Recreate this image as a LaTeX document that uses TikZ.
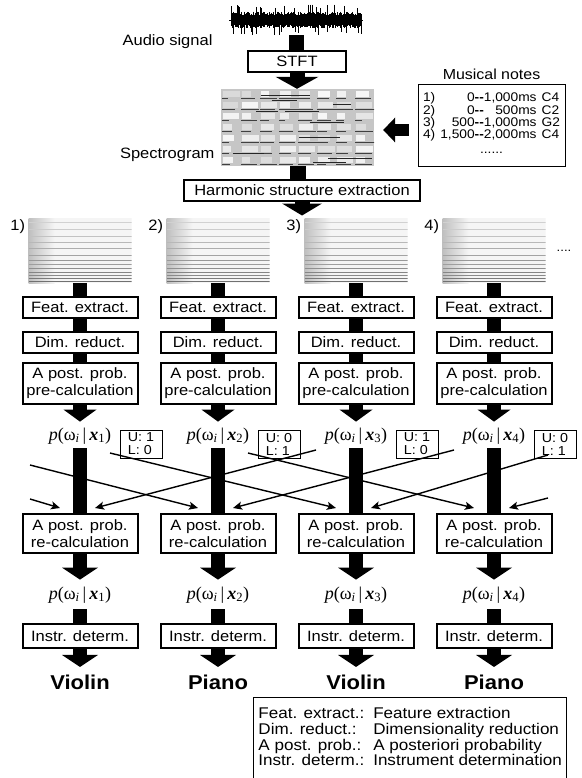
\documentclass[tikz,border=0pt]{standalone}
\usepackage{fontspec}
\setmainfont[FakeStretch=1.1]{Liberation Sans}
\newfontfamily\serifp{Liberation Serif}
\usetikzlibrary{arrows.meta,positioning}

\newcommand{\boxfs}{\fontsize{15}{17}\selectfont}
\newcommand{\probfs}{\serifp\fontsize{18}{20}\selectfont}
\newcommand{\resfs}{\bfseries\fontsize{20}{22}\selectfont}
\newcommand{\pw}[1]{\textit{p}(ω\textsubscript{\textit{i}}\,|\,\textbf{\textit{x}}\textsubscript{#1})}

\tikzset{
  blk/.style={draw, line width=2pt, fill=white, minimum width=115pt, minimum height=21pt,
    inner sep=1pt, align=center, font=\boxfs},
  blk2/.style={blk, minimum height=41pt},
  thinbox/.style={draw, line width=0.9pt, fill=white, inner sep=3pt, align=left},
  bar/.style={line width=14pt},
  bigarrow/.style={line width=14pt, -{Triangle[width=#1,length=12pt,line width=0pt]}},
  bigarrow/.default=36pt,
  xarrow/.style={line width=1.4pt, -{Stealth[length=9pt,width=8pt,inset=2pt]}},
  harm/.style={minimum width=103pt, minimum height=65pt, inner sep=0pt,
    path picture={
      \fill[gray!8] (path picture bounding box.south west) rectangle (path picture bounding box.north east);
      \shade[left color=gray!50, right color=gray!8] (path picture bounding box.south west)
        rectangle ([xshift=26pt]path picture bounding box.north west);
      \foreach \dy/\g in {4/18,11/20,18/24,24/28,30/32,37/36,42/40,46/38,50/44,54/48,57/46,60/52,63/56}
        \draw[black!\g, line width=1pt] ([yshift=-\dy*1pt]path picture bounding box.north west)
          -- ([yshift=-\dy*1pt]path picture bounding box.north east);
    }},
  spectro/.style={minimum width=153pt, minimum height=77pt, inner sep=0pt,
    path picture={
      \fill[gray!45] (path picture bounding box.south west) rectangle (path picture bounding box.north east);
      \foreach \sa in {0,...,7}{\foreach \sb in {0,...,6}{
        \pgfmathsetmacro\w{8+9*rnd}
        \pgfmathsetmacro\g{5+25*rnd}
        \fill[gray!\g] ([xshift=\sa*19pt+2pt, yshift=-\sb*11pt-2pt]path picture bounding box.north west)
          rectangle ++(\w pt,-6pt);
        \pgfmathsetmacro\ll{6+14*rnd}
        \draw[black!75, line width=0.9pt] ([xshift=\sa*19pt+1pt, yshift=-\sb*11pt-9.5pt]path picture bounding box.north west)
          -- ++(\ll pt,0pt);
      }}
      \foreach \sa in {1,...,12}{
        \pgfmathsetmacro\xx{130*rnd}
        \pgfmathsetmacro\yy{4+70*rnd}
        \pgfmathsetmacro\ll{15+30*rnd}
        \draw[black!85, line width=1pt] ([xshift=\xx pt, yshift=-\yy pt]path picture bounding box.north west)
          -- ++(\ll pt,0pt);
      }
    }}
}

\begin{document}
\begin{tikzpicture}[x=1pt,y=-1pt]
\useasboundingbox (0,0) rectangle (581,778);

% audio signal and spectrogram
\node (wave) [minimum width=133pt, minimum height=30pt, inner sep=0pt] at (296,20) {};
\draw[line width=0.6pt] (wave.west) -- (wave.east);
\foreach \n in {3,...,178}{
  \pgfmathsetmacro\wup{4.5+4*rnd+7*(rnd>0.88)}
  \pgfmathsetmacro\wdn{4.5+4*rnd+7*(rnd>0.9)}
  \draw[line width=0.9pt] ([xshift=\n*0.74pt, yshift=\wup pt]wave.west)
    -- ([xshift=\n*0.74pt, yshift=-\wdn pt]wave.west);
}
\node[anchor=base east, font=\boxfs] (audiotxt) at (216,46) {Audio signal};
\node[blk, minimum width=98pt] (stft) at (297,61.5) {STFT};
\node[spectro] (spec) at (297.5,127.5) {};
\node[anchor=base east, font=\boxfs] (spectxt) at (218,159) {Spectrogram};
\node[thinbox, minimum width=147pt, minimum height=82pt, align=center,
  font=\fontsize{12.5}{11}\selectfont] (notes) at (491.5,125) {%
  \begin{tabular}{@{}l@{\hspace{5pt}}r@{\textbf{-{}-}}r@{\hspace{5pt}}l@{}}
  1) & 0 & 1,000ms & C4\\
  2) & 0 & 500ms & C2\\
  3) & 500 & 1,000ms & G2\\
  4) & 1,500 & 2,000ms & C4\\[4pt]
  \multicolumn{4}{c}{......}
  \end{tabular}};
\node[above=0pt of notes, font=\fontsize{14.5}{16}\selectfont] (notestitle) {Musical notes};
\node[blk, minimum width=236pt] (hse) at (302,190) {Harmonic structure extraction};

\draw[bar, line width=15pt] (wave.south) -- (wave.south |- stft.north);
\draw[bigarrow=43pt, line width=15pt] (stft.south) -- (stft.south |- spec.north);
\coordinate (notesarr) at ([xshift=-9pt,yshift=-5pt]notes.west);
\draw[line width=12pt, -{Triangle[width=25pt,length=12pt,line width=0pt]}, shorten >=9pt]
  (notesarr) -- (notesarr -| spec.east);
\draw[bar, line width=16pt] (spec.south) -- (spec.south |- hse.north);
\coordinate (hsetip) at ([yshift=-14pt]hse.south);
\draw[bigarrow=40pt, line width=15pt] (hse.south) -- (hsetip);

% one column per note
\foreach \col/\cx/\uval/\lval/\inst in {1/80/1/0/Violin, 2/218/0/1/Piano, 3/356/1/0/Violin, 4/494/0/1/Piano}{
  \node[harm] (img\col) at (\cx,250.5) {};
  \node[anchor=north east, inner sep=0pt, font=\boxfs] (num\col) at ([xshift=-3pt,yshift=-2pt]img\col.north west) {\col)};
  \node[blk] (fe\col) at (\cx,307) {Feat. extract.};
  \node[blk] (dr\col) at (\cx,342) {Dim. reduct.};
  \node[blk2] (pre\col) at (\cx,383.5) {A post. prob.\\pre-calculation};
  \node[inner sep=1pt, font=\probfs] (p\col) at (\cx,436) {\pw{\col}};
  \node[thinbox, minimum width=42pt, minimum height=27pt, inner xsep=4pt,
    font=\fontsize{13}{13}\selectfont] (ul\col) at (\cx+61,444) {U: \uval\\L: \lval};
  \node[blk2, minimum height=39pt] (rc\col) at (\cx,533.5) {A post. prob.\\re-calculation};
  \node[inner sep=1pt, font=\probfs] (q\col) at (\cx,595) {\pw{\col}};
  \node[blk, minimum height=24pt] (id\col) at (\cx,636) {Instr. determ.};
  \node[anchor=base, font=\resfs] (res\col) at (\cx,689) {\inst};
  \coordinate (outR\col) at ([xshift=30pt,yshift=-17pt]p\col.center);
  \coordinate (outL\col) at ([xshift=-40pt,yshift=-14pt]p\col.center);
  \coordinate (inL\col) at ([xshift=-20pt,yshift=5pt]rc\col.north);
  \coordinate (inR\col) at ([xshift=15pt,yshift=5pt]rc\col.north);
  \draw[bar] (img\col.south) -- (fe\col.north);
  \draw[bar] (fe\col.south) -- (dr\col.north);
  \draw[bar] (dr\col.south) -- (pre\col.north);
  \draw[bigarrow=33pt, shorten >=5pt] (pre\col.south) -- (p\col.north);
  \draw[bar, shorten <=3pt] (p\col.south) -- (rc\col.north);
  \draw[bigarrow, shorten >=6pt] (rc\col.south) -- (q\col.north);
  \draw[bar, shorten <=5pt] (q\col.south) -- (id\col.north);
  \draw[bigarrow, shorten >=4pt] (id\col.south) -- (res\col.north);
}
\node[font=\fontsize{12}{14}\selectfont] (more) at (564,251) {....};

% exchange between columns
\coordinate (offA) at (30,465);
\coordinate (offB) at (30,499);
\coordinate (offC) at (548,455);
\coordinate (offD) at (548,498);
\draw[xarrow] (offB) -- (inL1);
\draw[xarrow] (offA) -- (inL2);
\draw[xarrow] (outR1) -- (inL3);
\draw[xarrow] (outR2) -- (inL4);
\draw[xarrow] (outL3) -- (inR1);
\draw[xarrow] (outL4) -- (inR2);
\draw[xarrow] (offC) -- (inR3);
\draw[xarrow] (offD) -- (inR4);

% legend
\node[draw, line width=0.9pt, anchor=north west, inner xsep=5pt, inner ysep=10pt,
  minimum width=310pt, text depth=60pt, font=\fontsize{15.5}{15}\selectfont] (legend) at (253,697) {%
  \begin{tabular}[t]{@{}l@{\hspace{9pt}}l@{}}
  Feat. extract.: & Feature extraction\\
  Dim. reduct.: & Dimensionality reduction\\
  A post. prob.: & A posteriori probability\\
  Instr. determ.: & Instrument determination
  \end{tabular}};
\end{tikzpicture}
\end{document}
